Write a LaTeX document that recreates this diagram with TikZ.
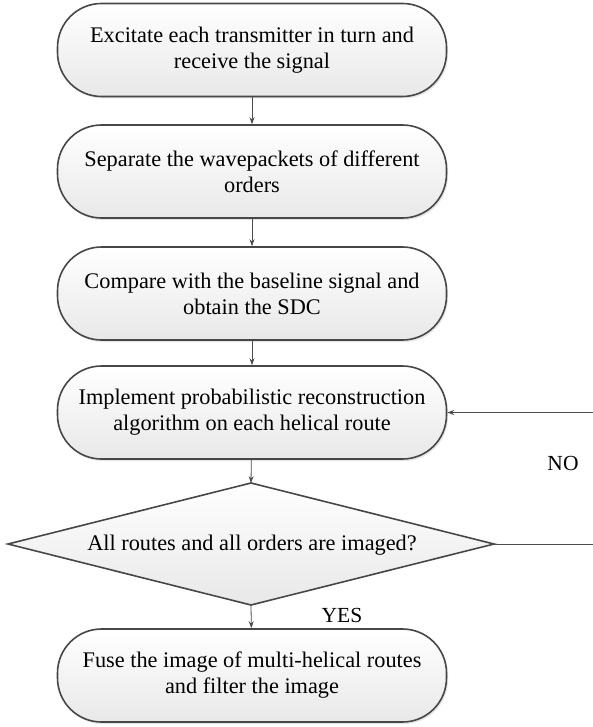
\documentclass[tikz,border=0pt]{standalone}
\usepackage{fontspec}
\setmainfont{Liberation Serif}
\usetikzlibrary{arrows.meta,shadows,shapes.geometric}
\begin{document}
\begin{tikzpicture}[x=1pt,y=-1pt,
  procbox/.style={draw=black!72, line width=1.6pt, rounded corners=44pt,
    top color=white, bottom color=black!9, minimum width=389pt, minimum height=93pt,
    align=center, inner sep=0pt, font=\fontsize{22.3}{26}\selectfont,
    drop shadow={opacity=0.2, shadow xshift=1.5pt, shadow yshift=-2pt}},
  decision/.style={shape=diamond, draw=black!72, line width=1.6pt,
    top color=white, bottom color=black!9, minimum width=486pt, minimum height=122pt,
    inner sep=0pt, outer sep=0pt},
  conn/.style={draw=black!70, line width=0.8pt},
  arr/.style={conn, -{Stealth[length=7pt,width=5pt]}},
  lbl/.style={font=\fontsize{21.5}{25}\selectfont, inner sep=0pt}
]
\useasboundingbox (0,0) rectangle (592,727);
\node[procbox] (b1) at (252,50) {Excitate each transmitter in turn and\\receive the signal};
\node[procbox] (b2) at (252,171.5) {Separate the wavepackets of different\\orders};
\node[procbox] (b3) at (252,293.5) {Compare with the baseline signal and\\obtain the SDC};
\node[procbox] (b4) at (252,412.5) {Implement probabilistic reconstruction\\algorithm on each helical route};
\node[decision] (d) at (251,544) {};
\node[font=\fontsize{22.3}{26}\selectfont] (dt) at (252,545) {All routes and all orders are imaged?};
\node[procbox] (b6) at (252,675.5) {Fuse the image of multi-helical routes\\and filter the image};
\node[lbl] (no) at (563,463) {NO};
\node[lbl] (yes) at (342,615) {YES};
\coordinate (r1) at (600,544);
\coordinate (r2) at (600,412.5);
\draw[arr] (b1) -- (b2);
\draw[arr] (b2) -- (b3);
\draw[arr] (b3) -- (b4);
\draw[arr] (b4) -- (d.north);
\draw[arr] (d.south) -- (b6);
\draw[conn] (d.east) -- (r1) -- (r2);
\draw[arr] (r2) -- (b4.east);
\end{tikzpicture}
\end{document}
